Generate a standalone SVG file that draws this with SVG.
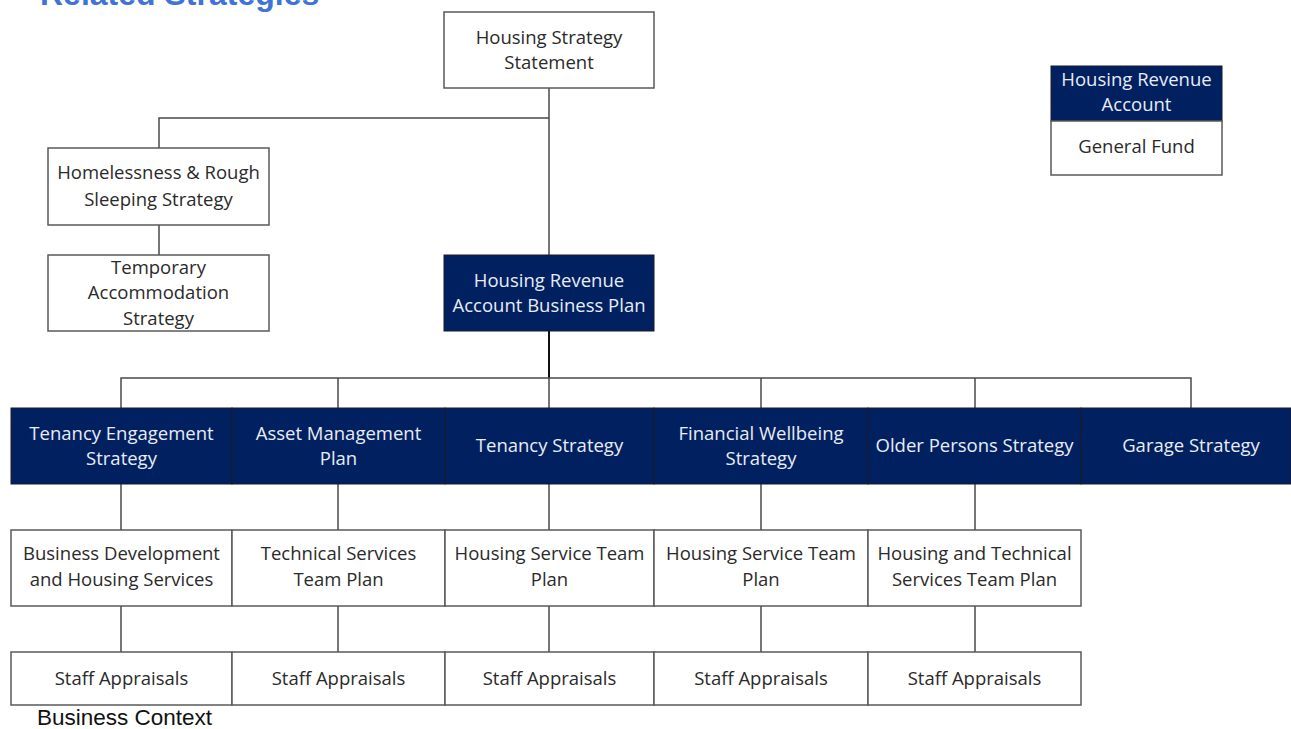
<svg xmlns="http://www.w3.org/2000/svg" width="1291" height="729" viewBox="0 0 1291 729">
<style>
.w{fill:#ffffff;stroke:#5a5a5a;stroke-width:1.5}
.n{fill:#002060;stroke:#1a1a2a;stroke-width:1}
.t{font-family:"Open Sans","Noto Sans",sans-serif;font-size:18.5px;text-anchor:middle;fill:#2a2a2a}
.tw{font-family:"Open Sans","Noto Sans",sans-serif;font-size:18.5px;text-anchor:middle;fill:#e8ecf5}
.c{fill:none;stroke:#4a4a4a;stroke-width:1.5}
</style>
<rect width="1291" height="729" fill="#ffffff"/>
<text x="40" y="5" font-family="Liberation Sans, Arial, sans-serif" font-size="32" font-weight="bold" fill="#3f74d6">Related Strategies</text>
<g id="connectors">
<path class="c" d="M549 88V255M549 118H159V148M159 225V255"/>
<path d="M549 331V378" stroke="#111" stroke-width="2" fill="none"/>
<path class="c" d="M121 408V378H1191V408M338 378V408M549 378V408M761 378V408M975 378V408"/>
<path class="c" d="M121 484V530M338 484V530M549 484V530M761 484V530M975 484V530"/>
<path class="c" d="M121 606V652M338 606V652M549 606V652M761 606V652M975 606V652"/>
</g>
<g id="hss"><rect class="w" x="444" y="12" width="210" height="76"/><text class="t" x="549" y="44">Housing Strategy</text><text class="t" x="549" y="69">Statement</text></g>
<g id="homeless"><rect class="w" x="48" y="148" width="221" height="77"/><text class="t" x="158.5" y="179">Homelessness &amp; Rough</text><text class="t" x="158.5" y="206">Sleeping Strategy</text></g>
<g id="temp"><rect class="w" x="48" y="255" width="221" height="76"/><text class="t" x="158.5" y="274">Temporary</text><text class="t" x="158.5" y="299">Accommodation</text><text class="t" x="158.5" y="325">Strategy</text></g>
<g id="hrabp"><rect class="n" x="444" y="255" width="210" height="76"/><text class="tw" x="549" y="287">Housing Revenue</text><text class="tw" x="549" y="312">Account Business Plan</text></g>
<g id="legend-hra"><rect class="n" x="1051" y="66" width="171" height="55"/><text class="tw" x="1136.5" y="86">Housing Revenue</text><text class="tw" x="1136.5" y="111">Account</text></g>
<g id="legend-gf"><rect class="w" x="1051" y="121" width="171" height="54"/><text class="t" x="1136.5" y="153">General Fund</text></g>
<g id="s1"><rect class="n" x="11" y="408" width="221" height="76"/><text class="tw" x="121.5" y="440">Tenancy Engagement</text><text class="tw" x="121.5" y="465">Strategy</text></g>
<g id="s2"><rect class="n" x="232" y="408" width="213" height="76"/><text class="tw" x="338.5" y="440">Asset Management</text><text class="tw" x="338.5" y="465">Plan</text></g>
<g id="s3"><rect class="n" x="445" y="408" width="209" height="76"/><text class="tw" x="549.5" y="452">Tenancy Strategy</text></g>
<g id="s4"><rect class="n" x="654" y="408" width="214" height="76"/><text class="tw" x="761" y="440">Financial Wellbeing</text><text class="tw" x="761" y="465">Strategy</text></g>
<g id="s5"><rect class="n" x="868" y="408" width="213" height="76"/><text class="tw" x="974.5" y="452">Older Persons Strategy</text></g>
<g id="s6"><rect class="n" x="1081" y="408" width="210" height="76"/><text class="tw" x="1191" y="452">Garage Strategy</text></g>
<g id="p1"><rect class="w" x="11" y="530" width="221" height="76"/><text class="t" x="121.5" y="560">Business Development</text><text class="t" x="121.5" y="586">and Housing Services</text></g>
<g id="p2"><rect class="w" x="232" y="530" width="213" height="76"/><text class="t" x="338.5" y="560">Technical Services</text><text class="t" x="338.5" y="586">Team Plan</text></g>
<g id="p3"><rect class="w" x="445" y="530" width="209" height="76"/><text class="t" x="549.5" y="560">Housing Service Team</text><text class="t" x="549.5" y="586">Plan</text></g>
<g id="p4"><rect class="w" x="654" y="530" width="214" height="76"/><text class="t" x="761" y="560">Housing Service Team</text><text class="t" x="761" y="586">Plan</text></g>
<g id="p5"><rect class="w" x="868" y="530" width="213" height="76"/><text class="t" x="974.5" y="560">Housing and Technical</text><text class="t" x="974.5" y="586">Services Team Plan</text></g>
<g id="a1"><rect class="w" x="11" y="652" width="221" height="53"/><text class="t" x="121.5" y="685">Staff Appraisals</text></g>
<g id="a2"><rect class="w" x="232" y="652" width="213" height="53"/><text class="t" x="338.5" y="685">Staff Appraisals</text></g>
<g id="a3"><rect class="w" x="445" y="652" width="209" height="53"/><text class="t" x="549.5" y="685">Staff Appraisals</text></g>
<g id="a4"><rect class="w" x="654" y="652" width="214" height="53"/><text class="t" x="761" y="685">Staff Appraisals</text></g>
<g id="a5"><rect class="w" x="868" y="652" width="213" height="53"/><text class="t" x="974.5" y="685">Staff Appraisals</text></g>
<text x="37" y="725" font-family="Liberation Sans, Arial, sans-serif" font-size="22.5" fill="#111111">Business Context</text>
</svg>
